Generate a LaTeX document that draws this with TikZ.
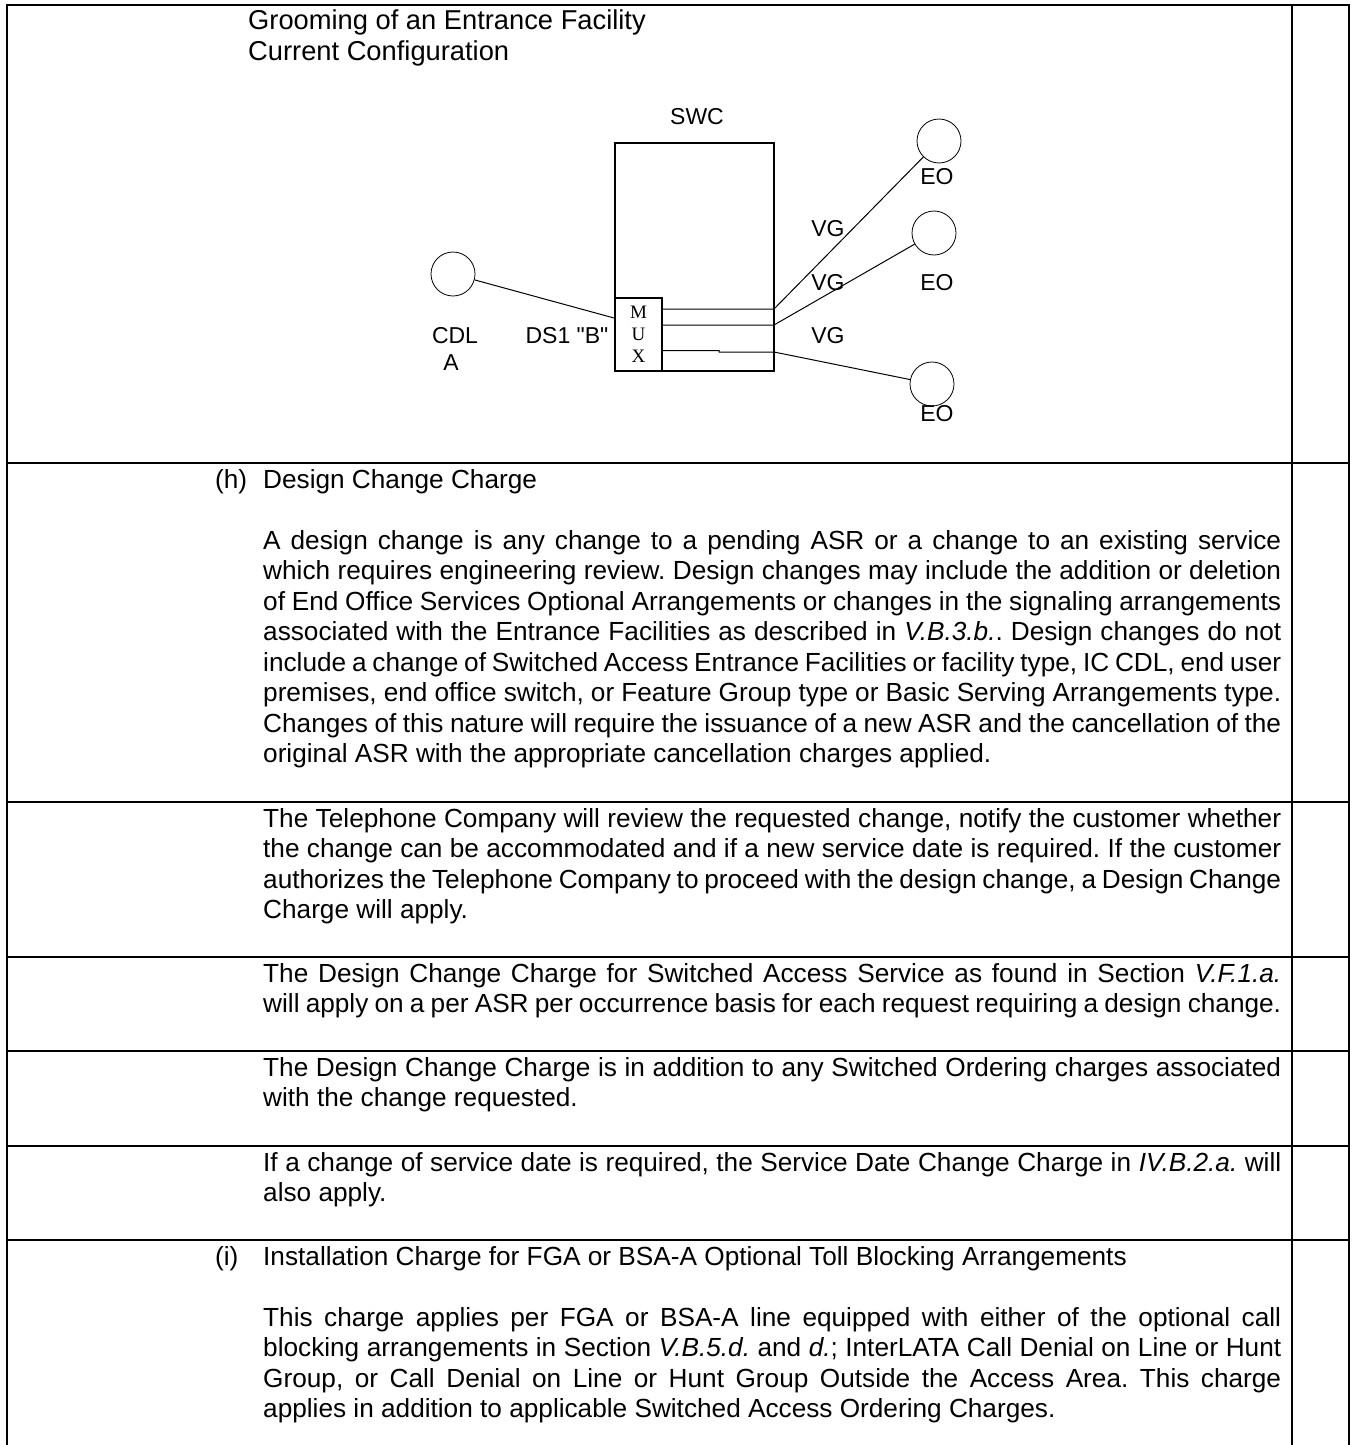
\documentclass[tikz,border=0pt]{standalone}
\usepackage{fontspec}
\setmainfont{Liberation Sans}
\newfontfamily\muxfont{Liberation Serif}
\usetikzlibrary{positioning}
\hyphenpenalty=10000
\exhyphenpenalty=10000
\emergencystretch=20pt
\frenchspacing
\newcommand\gerade{\XeTeXglyph\XeTeXcharglyph"22\relax}

\begin{document}
\begin{tikzpicture}[x=1pt, y=-1pt,
  linie/.style={line width=2pt},
  txt/.style={anchor=base west, inner sep=0pt, font=\fontsize{26.2}{30.5}\selectfont},
  absatz/.style={txt, text width=1018pt, align=justify},
  lbl/.style={anchor=base, inner sep=0pt, font=\fontsize{23}{26}\selectfont},
  amt/.style={circle, draw, line width=0.8pt, minimum size=44pt, inner sep=0pt},
  leitung/.style={line width=1pt}]
\useasboundingbox (0,0) rectangle (1354,1445);

% Tabelle
\draw[linie] (7,1445) -- (7,5) -- (1349,5) -- (1349,1445); % Rahmen
\draw[linie] (1292,5) -- (1292,1445); % rechte Spalte
\foreach \y in {463,802,957,1051,1146,1240}
  \draw[linie] (7,\y) -- (1349,\y); % Zeilen

% Kopf
\node[txt, font=\fontsize{27.3}{30.5}\selectfont] (titel1) at (248,30) {Grooming of an Entrance Facility};
\node[txt, font=\fontsize{27.3}{30.5}\selectfont] (titel2) at (248,60.5) {Current Configuration};

% Vermittlung
\node[draw, line width=1.2pt, minimum width=159pt, minimum height=228pt, inner sep=0pt] (swc) at (694.5,257) {};
\node[draw, line width=2pt, minimum width=47pt, minimum height=73pt, inner sep=0pt, align=center,
  font=\muxfont\fontsize{19}{22}\selectfont] (mux) at (638.5,334.5) {M\\U\\X};
\node[lbl] (swctxt) at (697,124) {SWC};

% Aemter
\node[amt] (cdl) at (453,274) {};
\node[amt] (eo1) at (939,141) {};
\node[amt] (eo2) at (934,233) {};
\node[amt] (eo3) at (932,384) {};

% Beschriftung
\node[lbl] (cdltxt) at (455,343) {CDL};
\node[lbl] (atxt) at (451,370) {A};
\node[lbl] (ds1) at (567,343) {DS1 \gerade B\gerade};
\node[lbl] (vg1) at (828,236) {VG};
\node[lbl] (vg2) at (828,290) {VG};
\node[lbl] (vg3) at (828,343) {VG};
\node[lbl] (eo1txt) at (937,184) {EO};
\node[lbl] (eo2txt) at (937,290) {EO};
\node[lbl] (eo3txt) at (937,421) {EO};

% Leitungen
\coordinate (k0) at (615,318);
\coordinate (v1) at (774,309);
\coordinate (v2) at (774,325);
\coordinate (v3) at (774,352);
\draw[leitung] (cdl) -- (mux.west |- k0);
\draw[leitung] (mux.east |- v1) -- (v1) -- (eo1);
\draw[leitung] (mux.east |- v2) -- (v2) -- (eo2);
\draw[leitung] (mux.east |- 0,350.5) -- (719,350.5) -- (719,352) -- (v3) -- (eo3);

% Text (h)
\node[txt] (h) at (215,488) {(h)};
\node[txt] (hkopf) at (263,488) {Design Change Charge};
\node[absatz] (abs1) at (263,549) {A design change is any change to a pending ASR or a change to an existing service\linebreak
which requires engineering review. Design changes may include the addition or deletion\linebreak
of End Office Services Optional Arrangements or changes in the signaling arrangements\linebreak
associated with the Entrance Facilities as described in \textit{V.B.3.b.}. Design changes do not\linebreak
include a change of Switched Access Entrance Facilities or facility type, IC CDL, end user\linebreak
premises, end office switch, or Feature Group type or Basic Serving Arrangements type.\linebreak
Changes of this nature will require the issuance of a new ASR and the cancellation of the\linebreak
original ASR with the appropriate cancellation charges applied.};
\node[absatz] (abs2) at (263,827) {The Telephone Company will review the requested change, notify the customer whether\linebreak
the change can be accommodated and if a new service date is required. If the customer\linebreak
authorizes the Telephone Company to proceed with the design change, a Design Change\linebreak
Charge will apply.};
\node[absatz] (abs3) at (263,982) {The Design Change Charge for Switched Access Service as found in Section \textit{V.F.1.a.}\linebreak
will apply on a per ASR per occurrence basis for each request requiring a design change.};
\node[absatz] (abs4) at (263,1076) {The Design Change Charge is in addition to any Switched Ordering charges associated\linebreak
with the change requested.};
\node[absatz] (abs5) at (263,1171) {If a change of service date is required, the Service Date Change Charge in \textit{IV.B.2.a.} will\linebreak
also apply.};

% Text (i)
\node[txt] (i) at (215,1265) {(i)};
\node[txt] (ikopf) at (263,1265) {Installation Charge for FGA or BSA-A Optional Toll Blocking Arrangements};
\node[absatz] (abs6) at (263,1326) {This charge applies per FGA or BSA-A line equipped with either of the optional call\linebreak
blocking arrangements in Section \textit{V.B.5.d.} and \textit{d.}; InterLATA Call Denial on Line or Hunt\linebreak
Group, or Call Denial on Line or Hunt Group Outside the Access Area. This charge\linebreak
applies in addition to applicable Switched Access Ordering Charges.};
\end{tikzpicture}
\end{document}
